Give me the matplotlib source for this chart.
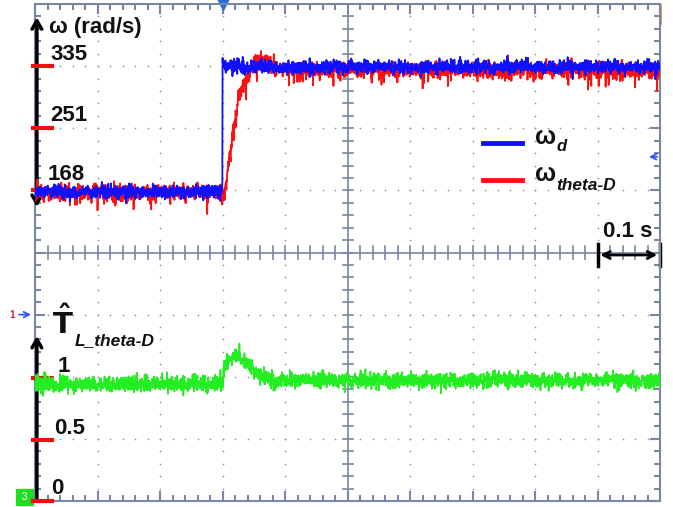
# scope capture: speed step and load torque estimate
import numpy as np
import matplotlib.pyplot as plt

plt.rcParams['font.family'] = ['Liberation Sans', 'DejaVu Sans']
plt.rcParams['mathtext.fontset'] = 'custom'
plt.rcParams['mathtext.bf'] = 'DejaVu Sans:bold'
plt.rcParams['mathtext.rm'] = 'DejaVu Sans:bold'

# --- data (time in s, speed in rad/s, torque in pu)
t_ref = [0.0, 0.3, 0.3, 1.0]
w_ref = [166, 166, 334, 334]

t_est = [0.0, 0.30, 0.302, 0.313, 0.326, 0.340, 0.350, 0.365, 0.38, 0.40, 1.0]
w_est = [166, 166, 160, 222, 298, 322, 339, 343, 336, 331, 330]

t_tl = [0.0, 0.30, 0.303, 0.32, 0.33, 0.36, 0.38, 1.0]
tl = [0.94, 0.94, 1.08, 1.18, 1.15, 1.0, 0.97, 0.97]

# trace noise amplitude seen on screen
w_noise = 4.5
tl_noise = 0.033

# scope channel settings
w_div, w_zero_div = 83.5, 5 - 168 / 83.5   # rad/s per div, div position of 0
tl_div = 0.5
t_div = 0.1

frame = '#7a86a3'
dots = '#8a96b4'

fig = plt.figure(figsize=(6.73, 5.07), dpi=100)
rect = [35 / 673, 6 / 507, 625 / 673, 497 / 507]

# screen grid (divisions)
ax = fig.add_axes(rect)
ax.set_xlim(0, 10)
ax.set_ylim(0, 8)
for s in ax.spines.values():
    s.set_color(frame)
    s.set_linewidth(1.5)
ax.set_xticks(np.arange(0, 11))
ax.set_yticks(np.arange(0, 9))
ax.set_xticks(np.arange(0, 10.01, 0.2), minor=True)
ax.set_yticks(np.arange(0, 8.01, 0.2), minor=True)
ax.tick_params(which='both', direction='in', top=True, right=True,
               labelbottom=False, labelleft=False, color=frame, width=1.5)
ax.tick_params(which='major', length=7)
ax.tick_params(which='minor', length=4)

gx, gy = [], []
for i in range(1, 10):
    if i == 5:
        continue
    for j in np.arange(0.2, 8, 0.2):
        gx.append(i); gy.append(j)
for j in range(1, 8):
    if j == 4:
        continue
    for i in np.arange(0.2, 10, 0.2):
        gx.append(i); gy.append(j)
ax.scatter(gx, gy, s=1.5, color=dots, lw=0, zorder=1)
ax.axvline(5, color=frame, lw=1.2, zorder=1)
ax.axhline(4, color=frame, lw=1.2, zorder=1)
for j in np.arange(0.2, 8, 0.2):
    ax.plot([4.92, 5.08], [j, j], color=frame, lw=1.2, zorder=1)
for i in np.arange(0.2, 10, 0.2):
    ax.plot([i, i], [3.9, 4.1], color=frame, lw=1.2, zorder=1)

# traces
rng = np.random.default_rng(3)
t = np.linspace(0, 1, 2600)
axw = fig.add_axes(rect, frameon=False)
axw.set_xlim(0, 1)
axw.set_ylim(-w_zero_div * w_div, (8 - w_zero_div) * w_div)
axw.set_xticks([]); axw.set_yticks([])

red = np.interp(t, t_est, w_est) + rng.normal(0, w_noise * 1.1, t.size)
red -= np.abs(rng.normal(0, 3, t.size)) * (rng.random(t.size) < 0.15) * 3
blue = np.interp(t, t_ref, w_ref) + rng.normal(0, w_noise, t.size)
blue[np.argmin(np.abs(t - 0.3))] = 346
axw.plot(t, red, color='#ff1010', lw=1.3)
axw.plot(t, blue, color='#1010ff', lw=1.3)

axt = fig.add_axes(rect, frameon=False)
axt.set_xlim(0, 1)
axt.set_ylim(0, 8 * tl_div)
axt.set_xticks([]); axt.set_yticks([])
green = np.interp(t, t_tl, tl) + rng.normal(0, tl_noise, t.size)
axt.plot(t, green, color='#22ee22', lw=1.2)

# left axis arrows and level markers
ax.annotate('', xy=(0.03, 7.83), xytext=(0.03, 4.69),
            arrowprops=dict(arrowstyle='<->,head_length=0.6,head_width=0.35', lw=2.5, color='black'),
            annotation_clip=False, zorder=5)
ax.annotate('', xy=(0.03, 2.7), xytext=(0.03, 0.0),
            arrowprops=dict(arrowstyle='->,head_length=0.6,head_width=0.35', lw=2.5, color='black'),
            annotation_clip=False, zorder=5)
for y in [7, 6, 5, 1.98, 0.98, 0.0]:
    ax.plot([-0.03, 0.27], [y, y], color='#ee1111', lw=3, clip_on=False, zorder=6)

txt = dict(fontsize=16, fontweight='bold', color='#111111', zorder=7)
ax.text(0.22, 7.62, 'ω (rad/s)', va='center', **txt)
ax.text(0.24, 7.18, '335', va='center', **txt)
ax.text(0.24, 6.2, '251', va='center', **txt)
ax.text(0.2, 5.25, '168', va='center', **txt)
ax.text(0.36, 2.16, '1', va='center', **txt)
ax.text(0.3, 1.17, '0.5', va='center', **txt)
ax.text(0.26, 0.2, '0', va='center', **txt)
ax.text(0.28, 2.86, r'$\hat{\mathbf{T}}$', fontsize=21, va='center', color='#111111', zorder=7)
ax.text(0.64, 2.59, 'L_theta-D', fontsize=12.5, fontweight='bold', style='italic',
        va='center', color='#111111', zorder=7)

# legend
ax.plot([7.17, 7.79], [5.76, 5.76], color='#1010ff', lw=3.5)
ax.plot([7.17, 7.79], [5.17, 5.17], color='#ff1010', lw=3.5)
ax.text(8.0, 5.86, 'ω', fontsize=18, fontweight='bold', va='center', color='#111111')
ax.text(8.34, 5.7, 'd', fontsize=12, fontweight='bold', style='italic', va='center', color='#111111')
ax.text(8.0, 5.26, 'ω', fontsize=18, fontweight='bold', va='center', color='#111111')
ax.text(8.34, 5.08, 'theta-D', fontsize=12.5, fontweight='bold', style='italic', va='center', color='#111111')

# time scale bar
ax.text(9.48, 4.33, '%.1f s' % t_div, fontsize=16, fontweight='bold', ha='center', va='center', color='#111111')
ax.annotate('', xy=(9.0, 3.96), xytext=(10.0, 3.96),
            arrowprops=dict(arrowstyle='<->,head_length=0.5,head_width=0.25', lw=2, color='black'),
            annotation_clip=False)
for x in [9.0, 10.0]:
    ax.plot([x, x], [3.78, 4.14], color='black', lw=2.5, clip_on=False)

# scope markers
ax.plot([3.0], [8.0], marker='v', color='#2a6fd6', ms=8, clip_on=False)
ax.annotate('', xy=(9.78, 5.54), xytext=(10.0, 5.54),
            arrowprops=dict(arrowstyle='->', lw=1.2, color='#2a4cff'), annotation_clip=False)
ax.annotate('', xy=(-0.02, 3.0), xytext=(-0.3, 3.0),
            arrowprops=dict(arrowstyle='->', lw=1.2, color='#2a4cff'), annotation_clip=False)
ax.text(-0.33, 3.0, '1', fontsize=7, color='#dd2222', fontweight='bold', ha='right', va='center')
ax.add_patch(plt.Rectangle((-0.3, -0.06), 0.27, 0.25, color='#22dd22', clip_on=False))
ax.text(-0.17, 0.06, '3', fontsize=7, color='white', ha='center', va='center')
ax.plot([10.0, 10.0], [7.7, 7.98], color='#e69030', lw=2, clip_on=False)

fig.savefig('out.png', dpi=100)
